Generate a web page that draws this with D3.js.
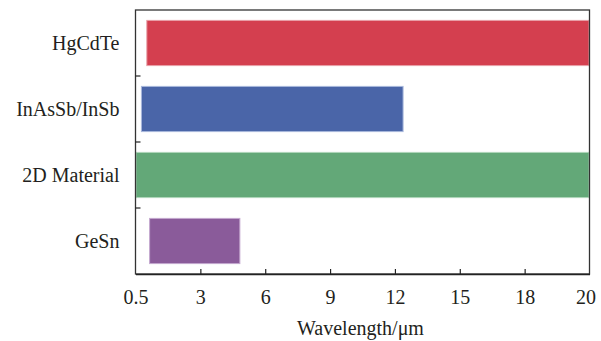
<!DOCTYPE html>
<html>
<head>
<meta charset="utf-8">
<script src="https://cdn.jsdelivr.net/npm/d3@7"></script>
<style>
  html, body { margin: 0; padding: 0; background: #fff; }
  svg text { font-family: "Times New Roman", Times, "Liberation Serif", Tinos, "Nimbus Roman", "DejaVu Serif", serif; fill: #231f20; }
</style>
</head>
<body>
<svg id="chart" width="601" height="341"></svg>
<script>
// ---- data ----
const categories = ["HgCdTe", "InAsSb/InSb", "2D Material", "GeSn"];
const rangeStart = [0.5, 0.25, 0, 0.63];   // axis units
const rangeEnd   = [21, 12.4, 21, 4.85];
const barColors  = ["#d43f4f", "#4a65a8", "#63a878", "#8a5b9a"];
const edgeColors = ["#e8a0a8", "#a9b8dc", "#b0d6bb", "#c4a8cf"];
const tickValues = [0, 3, 6, 9, 12, 15, 18, 21];
const tickLabels = ["0.5", "3", "6", "9", "12", "15", "18", "20"];
const xTitle = "Wavelength/\u03bcm";

const FONT = '"Times New Roman", Times, "Liberation Serif", Tinos, "Nimbus Roman", "DejaVu Serif", serif';

// ---- layout ----
const svg = d3.select("#chart");
const L = 135.5, R = 589.5, T = 10, B = 274;

const x = d3.scaleLinear().domain([0, 21]).range([L, R]);
const y = d3.scaleBand().domain(categories).range([T, B])
  .paddingInner(0.3).paddingOuter(0.15);

const rows = categories.map((c, i) => ({
  cat: c, s: rangeStart[i], e: rangeEnd[i], color: barColors[i], edge: edgeColors[i]
}));

// bars
svg.append("g").selectAll("rect").data(rows).join("rect")
  .attr("x", d => x(d.s) + 0.5)
  .attr("y", d => y(d.cat) + 0.5)
  .attr("width", d => Math.max(0, x(d.e) - x(d.s) - 1))
  .attr("height", y.bandwidth() - 1)
  .attr("fill", d => d.color)
  .attr("stroke", d => d.edge)
  .attr("stroke-width", 1);

// frame
svg.append("rect")
  .attr("x", L).attr("y", T)
  .attr("width", R - L).attr("height", B - T)
  .attr("fill", "none").attr("stroke", "#333").attr("stroke-width", 1.3);

// x axis (inward ticks)
const xAxis = d3.axisBottom(x)
  .tickValues(tickValues)
  .tickFormat((d, i) => tickLabels[i])
  .tickSizeInner(-5).tickSizeOuter(0).tickPadding(16);
const gx = svg.append("g").attr("transform", `translate(0,${B})`).call(xAxis)
  .attr("font-family", FONT).attr("font-size", 20);
gx.select(".domain").attr("stroke", "#222").attr("stroke-width", 1.3);
gx.selectAll(".tick line").attr("stroke", "#222").attr("stroke-width", 1.2);
gx.selectAll(".tick text")
  .attr("fill", "#231f20")
  .attr("dx", (d, i) => i === tickValues.length - 1 ? -4 : 0);
gx.selectAll(".tick").filter((d, i) => i === 0 || i === tickValues.length - 1)
  .select("line").remove();

// y axis: labels at band centers, ticks at band boundaries
const gy = svg.append("g").attr("font-family", FONT).attr("font-size", 20);
gy.selectAll("text.cat").data(categories).join("text")
  .attr("class", "cat")
  .attr("x", L - 16)
  .attr("y", d => y(d) + y.bandwidth() / 2)
  .attr("dy", "0.33em")
  .attr("text-anchor", "end")
  .text(d => d);

const boundaries = categories.slice(1).map(c => y(c) - y.step() * y.paddingInner() / 2);
gy.selectAll("line.bt").data(boundaries).join("line")
  .attr("class", "bt")
  .attr("x1", L).attr("x2", L + 5)
  .attr("y1", d => d).attr("y2", d => d)
  .attr("stroke", "#222").attr("stroke-width", 1.2);

// x title
svg.append("text")
  .attr("x", (L + R) / 2 - 2)
  .attr("y", 335)
  .attr("text-anchor", "middle")
  .attr("font-family", FONT)
  .attr("font-size", 20)
  .text(xTitle);
</script>
</body>
</html>
